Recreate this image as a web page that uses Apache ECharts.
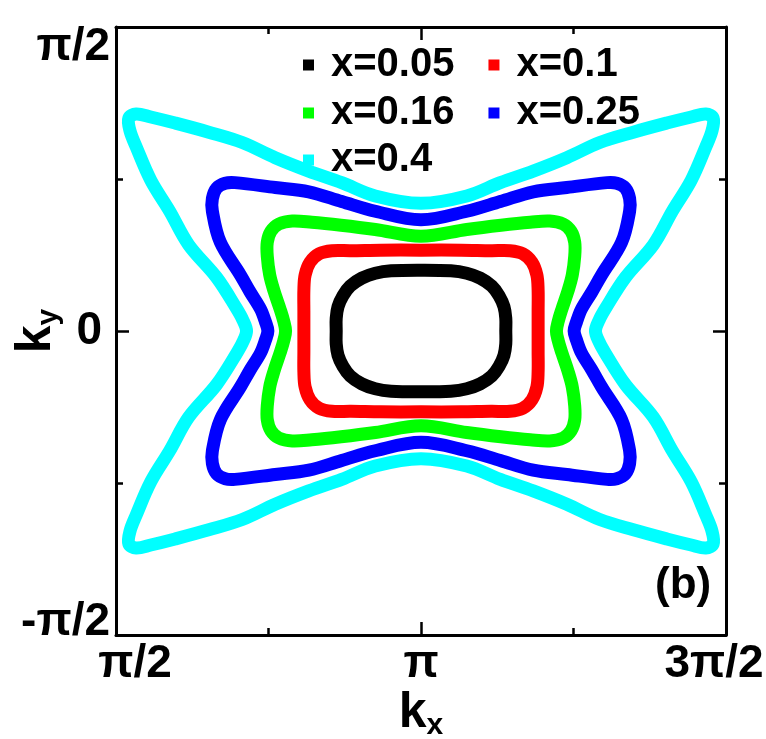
<!DOCTYPE html>
<html>
<head>
<meta charset="utf-8">
<script src="https://cdn.jsdelivr.net/npm/echarts@6/dist/echarts.min.js"></script>
<style>
html,body{margin:0;padding:0;background:#fff;}
#chart{width:766px;height:739px;}
</style>
</head>
<body>
<div id="chart"></div>
<script>
// kx and ky in units of pi (closed contours)
var seriesNames = ['x=0.05', 'x=0.1', 'x=0.16', 'x=0.25', 'x=0.4'];
var seriesColors = ['#000000', '#ff0000', '#00ff00', '#0000ff', '#00ffff'];

var xTickLabels = {'0.5': 'π/2', '1': 'π', '1.5': '3π/2'};
var yTickLabels = {'-0.5': '-π/2', '0': '0', '0.5': 'π/2'};

var contour005 = [
[1.000,0.100],[1.049,0.099],[1.075,0.095],[1.097,0.087],[1.116,0.074],[1.128,0.058],[1.136,0.040],[1.139,0.021],[1.139,0.000],
[1.139,-0.021],[1.136,-0.040],[1.128,-0.058],[1.116,-0.074],[1.097,-0.087],[1.075,-0.095],[1.049,-0.099],[1.000,-0.100],
[0.951,-0.099],[0.925,-0.095],[0.903,-0.087],[0.884,-0.074],[0.872,-0.058],[0.864,-0.040],[0.861,-0.021],[0.861,0.000],
[0.861,0.021],[0.864,0.040],[0.872,0.058],[0.884,0.074],[0.903,0.087],[0.925,0.095],[0.951,0.099]
];
var contour010 = [
[1.000,0.133],[1.066,0.133],[1.115,0.132],[1.146,0.132],[1.167,0.127],[1.182,0.113],[1.190,0.092],[1.192,0.067],[1.192,0.033],[1.192,0.000],
[1.192,-0.033],[1.192,-0.067],[1.190,-0.092],[1.182,-0.113],[1.167,-0.127],[1.146,-0.132],[1.115,-0.132],[1.066,-0.133],[1.000,-0.133],
[0.934,-0.133],[0.885,-0.132],[0.854,-0.132],[0.833,-0.127],[0.818,-0.113],[0.810,-0.092],[0.808,-0.067],[0.808,-0.033],[0.808,0.000],
[0.808,0.033],[0.808,0.067],[0.810,0.092],[0.818,0.113],[0.833,0.127],[0.854,0.132],[0.885,0.132],[0.934,0.133]
];
var contour016 = [
[1.000,0.156],[1.075,0.167],[1.131,0.174],[1.179,0.179],[1.211,0.181],[1.233,0.176],[1.246,0.164],[1.252,0.146],[1.252,0.123],[1.248,0.092],[1.241,0.066],[1.231,0.036],[1.225,0.016],[1.222,0.000],
[1.225,-0.016],[1.231,-0.036],[1.241,-0.066],[1.248,-0.092],[1.252,-0.123],[1.252,-0.146],[1.246,-0.164],[1.233,-0.176],[1.211,-0.181],[1.179,-0.179],[1.131,-0.174],[1.075,-0.167],[1.000,-0.156],
[0.925,-0.167],[0.869,-0.174],[0.821,-0.179],[0.789,-0.181],[0.767,-0.176],[0.754,-0.164],[0.748,-0.146],[0.748,-0.123],[0.752,-0.092],[0.759,-0.066],[0.769,-0.036],[0.775,-0.016],[0.778,0.000],
[0.775,0.016],[0.769,0.036],[0.759,0.066],[0.752,0.092],[0.748,0.123],[0.748,0.146],[0.754,0.164],[0.767,0.176],[0.789,0.181],[0.821,0.179],[0.869,0.174],[0.925,0.167]
];
var contour025 = [
[1.000,0.183],[1.075,0.197],[1.130,0.213],[1.184,0.229],[1.239,0.236],[1.305,0.244],[1.321,0.243],[1.335,0.235],[1.342,0.218],[1.342,0.197],[1.329,0.146],[1.296,0.092],[1.280,0.064],[1.263,0.036],[1.255,0.015],[1.251,0.000],
[1.255,-0.015],[1.263,-0.036],[1.280,-0.064],[1.296,-0.092],[1.329,-0.146],[1.342,-0.197],[1.342,-0.218],[1.335,-0.235],[1.321,-0.243],[1.305,-0.244],[1.239,-0.236],[1.184,-0.229],[1.130,-0.213],[1.075,-0.197],[1.000,-0.183],
[0.925,-0.197],[0.870,-0.213],[0.816,-0.229],[0.761,-0.236],[0.695,-0.244],[0.679,-0.243],[0.665,-0.235],[0.658,-0.218],[0.658,-0.197],[0.671,-0.146],[0.704,-0.092],[0.720,-0.064],[0.737,-0.036],[0.745,-0.015],[0.749,0.000],
[0.745,0.015],[0.737,0.036],[0.720,0.064],[0.704,0.092],[0.671,0.146],[0.658,0.197],[0.658,0.218],[0.665,0.235],[0.679,0.243],[0.695,0.244],[0.761,0.236],[0.816,0.229],[0.870,0.213],[0.925,0.197]
];
var contour040 = [
[1.000,0.210],[1.075,0.222],[1.130,0.244],[1.184,0.263],[1.239,0.285],[1.293,0.310],[1.348,0.327],[1.403,0.342],[1.443,0.352],[1.467,0.357],[1.479,0.350],[1.477,0.329],[1.467,0.303],[1.443,0.248],[1.412,0.197],[1.381,0.142],[1.335,0.088],[1.303,0.038],[1.292,0.018],[1.286,0.000],
[1.292,-0.018],[1.303,-0.038],[1.335,-0.088],[1.381,-0.142],[1.412,-0.197],[1.443,-0.248],[1.467,-0.303],[1.477,-0.329],[1.479,-0.350],[1.467,-0.357],[1.443,-0.352],[1.403,-0.342],[1.348,-0.327],[1.293,-0.310],[1.239,-0.285],[1.184,-0.263],[1.130,-0.244],[1.075,-0.222],[1.000,-0.210],
[0.925,-0.222],[0.870,-0.244],[0.816,-0.263],[0.761,-0.285],[0.707,-0.310],[0.652,-0.327],[0.597,-0.342],[0.557,-0.352],[0.533,-0.357],[0.521,-0.350],[0.523,-0.329],[0.533,-0.303],[0.557,-0.248],[0.588,-0.197],[0.619,-0.142],[0.665,-0.088],[0.697,-0.038],[0.708,-0.018],[0.714,0.000],
[0.708,0.018],[0.697,0.038],[0.665,0.088],[0.619,0.142],[0.588,0.197],[0.557,0.248],[0.533,0.303],[0.523,0.329],[0.521,0.350],[0.533,0.357],[0.557,0.352],[0.597,0.342],[0.652,0.327],[0.707,0.310],[0.761,0.285],[0.816,0.263],[0.870,0.244],[0.925,0.222]
];
var contours = [contour005, contour010, contour016, contour025, contour040];

var FONT = '"Liberation Sans", Arial, sans-serif';
var chart = echarts.init(document.getElementById('chart'), null, {renderer: 'canvas'});

function tickStyle(len) {
  return {show: true, inside: true, length: len, lineStyle: {color: '#000', width: 2.5}};
}
function minorStyle() {
  return {show: true, splitNumber: 2, length: 7, lineStyle: {color: '#000', width: 2.5}};
}
var axisLineStyle = {show: true, onZero: false, lineStyle: {color: '#000', width: 3}};

var series = seriesNames.map(function (name, i) {
  var pts = contours[i];
  var color = seriesColors[i];
  return {
    name: name,
    type: 'custom',
    coordinateSystem: 'cartesian2d',
    data: pts,
    encode: {x: 0, y: 1},
    itemStyle: {color: color},
    z: 10 - i,
    animation: false,
    silent: true,
    renderItem: function (params, api) {
      if (params.dataIndex !== 0) return null;
      var screenPts = pts.map(function (p) { return api.coord(p); });
      return {
        type: 'polygon',
        shape: {points: screenPts, smooth: 0.35},
        style: {fill: null, stroke: color, lineWidth: 13, lineJoin: 'round'}
      };
    }
  };
});

function legendBlock(names, top) {
  return {
    data: names.map(function (n) { return {name: n, icon: 'rect', itemStyle: {color: seriesColors[seriesNames.indexOf(n)]}}; }),
    left: 298, top: top,
    orient: 'horizontal',
    itemWidth: 11, itemHeight: 11, itemGap: 34,
    selectedMode: false,
    textStyle: {fontFamily: FONT, fontWeight: 'bold', fontSize: 40, color: '#000', padding: [0, 0, 0, 12]}
  };
}

var nameRich = {
  k: {fontFamily: FONT, fontWeight: 'bold', fontSize: 50, color: '#000', lineHeight: 56},
  s: {fontFamily: FONT, fontWeight: 'bold', fontSize: 30, color: '#000', verticalAlign: 'bottom', lineHeight: 30}
};

var option = {
  backgroundColor: '#fff',
  animation: false,
  grid: {left: 116, right: 40, top: 27, bottom: 104, outerBoundsMode: 'none'},
  legend: [
    legendBlock(['x=0.05', 'x=0.1'], 40),
    legendBlock(['x=0.16', 'x=0.25'], 88),
    legendBlock(['x=0.4'], 135)
  ],
  xAxis: [{
    type: 'value', min: 0.5, max: 1.5, interval: 0.5, position: 'bottom',
    axisLine: axisLineStyle,
    axisTick: tickStyle(13),
    minorTick: minorStyle(),
    splitLine: {show: false},
    axisLabel: {
      margin: 6,
      formatter: function (v) {
        var t = xTickLabels[String(v)];
        if (v === 0.5) return '{lo|' + t + '}';
        if (v === 1.5) return '{hi|' + t + '}';
        return '{n|' + t + '}';
      },
      rich: {
        n: {fontFamily: FONT, fontWeight: 'bold', fontSize: 46, color: '#000'},
        lo: {fontFamily: FONT, fontWeight: 'bold', fontSize: 46, color: '#000', padding: [0, 0, 0, 38]},
        hi: {fontFamily: FONT, fontWeight: 'bold', fontSize: 46, color: '#000', padding: [0, 24, 0, 0]}
      }
    },
    name: '{k|k}{s|x}',
    nameLocation: 'middle',
    nameGap: 38,
    nameMoveOverlap: false,
    nameTextStyle: {rich: nameRich, verticalAlign: 'top', padding: [12, 0, 0, 0]}
  }, {
    type: 'value', min: 0.5, max: 1.5, interval: 0.5, position: 'top',
    axisLine: axisLineStyle,
    axisTick: tickStyle(13),
    minorTick: minorStyle(),
    splitLine: {show: false},
    axisLabel: {show: false}
  }],
  yAxis: [{
    type: 'value', min: -0.5, max: 0.5, interval: 0.5, position: 'left',
    axisLine: axisLineStyle,
    axisTick: tickStyle(13),
    minorTick: minorStyle(),
    splitLine: {show: false},
    axisLabel: {
      margin: 6,
      formatter: function (v) {
        var t = yTickLabels[String(v)];
        if (v === 0.5) return '{top|' + t + '}';
        if (v === -0.5) return '{bot|' + t + '}';
        return '{n|' + t + '}';
      },
      rich: {
        n: {fontFamily: FONT, fontWeight: 'bold', fontSize: 46, color: '#000', padding: [0, 8, 0, 0]},
        top: {fontFamily: FONT, fontWeight: 'bold', fontSize: 46, color: '#000', padding: [40, 0, 0, 0]},
        bot: {fontFamily: FONT, fontWeight: 'bold', fontSize: 46, color: '#000', padding: [0, 0, 26, 0]}
      }
    },
    name: '{k|k}{s|y}',
    nameLocation: 'middle',
    nameRotate: 90,
    nameGap: 52,
    nameMoveOverlap: false,
    nameTextStyle: {rich: nameRich}
  }, {
    type: 'value', min: -0.5, max: 0.5, interval: 0.5, position: 'right',
    axisLine: axisLineStyle,
    axisTick: tickStyle(13),
    minorTick: minorStyle(),
    splitLine: {show: false},
    axisLabel: {show: false}
  }],
  graphic: [{
    type: 'text', left: 655, top: 564,
    style: {text: '(b)', font: 'bold 44px ' + FONT, fill: '#000'}
  }],
  series: series
};
chart.setOption(option);
</script>
</body>
</html>
